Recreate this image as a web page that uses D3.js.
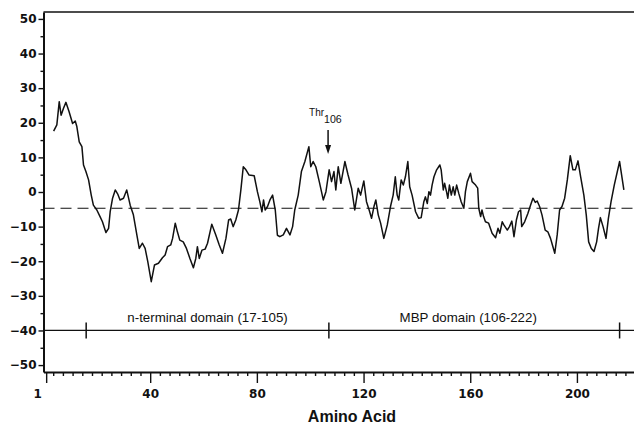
<!DOCTYPE html>
<html>
<head>
<meta charset="utf-8">
<script src="https://cdn.jsdelivr.net/npm/d3@7"></script>
<style>
  body { margin: 0; background: #fff; }
  svg { display: block; }
</style>
</head>
<body>
<div id="chart"></div>
<script>
// hydropathy profile
const aminoAcid = [
  3.8, 5, 5.9, 6.6, 7.5, 8.4, 9.6, 10.9, 11.9, 12.5, 13.4, 14.4, 15, 15.9, 16.9, 17.9, 18.7, 20, 21.2, 22.1,
  23.4, 24.4, 25, 25.9, 26.9, 27.9, 28.7, 30, 31.2, 32.5, 33.7, 35, 35.9, 37.1, 38.1, 39.1, 40.4, 41.6, 43.1, 44.6,
  45.6, 46.5, 47.7, 48.4, 49.4, 50.2, 51.1, 52.4, 53.6, 54.9, 56.2, 57.1, 57.7, 58.4, 59.4, 60.6, 61.5, 63.1, 64.6, 65.9,
  67.1, 68.4, 69.4, 70.2, 71.1, 72.1, 73.1, 74, 74.9, 75.9, 77.1, 79, 80.2, 81.1, 81.9, 82.5, 83.1, 84, 84.9, 85.9,
  86.9, 87.7, 88.6, 89.9, 91.1, 92.4, 93.4, 94.2, 95.5, 96.7, 98, 99.5, 100.2, 101.1, 102.1, 103.4, 104.9, 105.9, 107.1, 108,
  108.9, 109.6, 110.5, 111.5, 113, 114.2, 115.5, 116.7, 118, 118.9, 120.1, 121.1, 122.1, 123, 123.9, 124.6, 125.5, 126.4, 127.6, 128.9,
  130.1, 131.1, 131.9, 132.6, 133.2, 134.1, 134.9, 135.7, 136.6, 137.3, 138.2, 139.5, 140.7, 141.6, 142.6, 143.2, 143.9, 144.5, 145.1, 145.7,
  146.4, 147.4, 148.6, 149.1, 149.9, 150.4, 151.1, 151.6, 152.2, 152.9, 153.6, 154.2, 154.9, 155.7, 156.6, 157.6, 158.2, 158.9, 160.1, 160.7,
  162, 162.8, 163.2, 163.9, 164.4, 165, 165.7, 166.9, 168.2, 169.5, 170.4, 171.1, 172, 172.6, 173.9, 174.7, 175.6, 176.4, 177.3, 178.1,
  178.9, 179.3, 180.4, 181.6, 182.6, 183.5, 184.4, 185.1, 186, 186.9, 188.1, 189.1, 190.1, 191, 191.7, 192.6, 193.5, 194.4, 195.4, 196.4,
  197.5, 198.5, 199.4, 200.4, 201.4, 202.6, 203.5, 204.4, 205.4, 206.4, 207.4, 208.1, 208.8, 209.8, 210.9, 211.8, 212.8, 214, 216, 217.6
];
const hydropathy = [
  17.6, 19.4, 26.1, 22.2, 24.2, 25.9, 23.2, 19.8, 20.5, 18.9, 14.5, 13.1, 7.8, 5.9, 3.5, -0.9, -3.8, -5.2, -7.1, -8.6,
  -11.7, -10.5, -5.7, -1.8, 0.6, -0.7, -2.3, -1.8, 0.6, -3.8, -6.6, -12.4, -16.3, -14.8, -16.3, -20.1, -25.9, -21.1, -20.6, -19,
  -18.2, -15.8, -15.3, -13.4, -9, -11.5, -13.9, -14.4, -16.3, -19.2, -21.9, -19.2, -15.8, -19.2, -16.8, -16.5, -14.8, -9.3, -12.4, -15.3,
  -17.7, -13.4, -8.1, -7.8, -10, -8.1, -5.2, 0.6, 7.3, 6.4, 4.9, 4.7, 0.1, -2.8, -5.7, -2.3, -5.2, -4.2, -2.3, -0.9,
  -5.2, -12.5, -12.9, -12.4, -10.5, -12.4, -10, -5.2, -0.9, 5.9, 8.8, 13.1, 7.3, 8.8, 7.3, 3, -2.3, 0.1, 6.4, 3,
  5.9, 0.6, 7.3, 2.5, 8.8, 4.9, 1.1, -5.2, 1.1, -0.9, 3.2, -2.8, -5.2, -7.6, -4.2, -2.3, -6.6, -9, -13.4, -9.5,
  -4.2, -0.9, 4.4, -0.9, -2.3, 3.5, 2, 4.4, 8.8, 1.5, -0.9, -5.7, -7.6, -7.4, -2.8, -1.4, -3.3, 0.1, -0.9, 2,
  4.4, 6.4, 7.8, 6.4, 0.6, 2.5, 0.1, -1.8, 2, -0.9, 1.5, -0.9, 2, -0.4, -2.8, -4.7, 0.1, 3, 5.4, 3,
  2, 1.1, -4.7, -7.1, -5.2, -7.1, -8.6, -9, -11.9, -13.2, -10.5, -11.9, -8.6, -9.5, -11, -10, -8.4, -12.9, -8.1, -5.7,
  -5.2, -10, -8.6, -6.2, -3.8, -1.8, -3, -2.6, -4.2, -6.6, -11, -11.5, -13.4, -15.8, -17.7, -12.4, -5.2, -4.2, -1.8, 3.5,
  10.5, 6.4, 6.4, 9, 4.4, -0.9, -6.6, -14.4, -16.3, -17.2, -14.4, -10.5, -7.4, -10, -13.4, -7.6, -2.8, 2, 8.8, 0.6
];
const baseline = -4.7;

const xTicks = [1, 40, 80, 120, 160, 200];
const yTicks = [-50, -40, -30, -20, -10, 0, 10, 20, 30, 40, 50];
const yMinor = [-45, -35, -25, -15, -5, 5, 15, 25, 35, 45];

// domain bar at y = -40
const domainLevel = -40;
const domainMarks = [16, 107, 216];
const domainLabels = ["n-terminal domain (17-105)", "MBP domain (106-222)"];

const annotationAt = 106.7;

const W = 634, H = 425;
const x = d3.scaleLinear().domain([0, 222]).range([43.5, 635.6]);
const y = d3.scaleLinear().domain([-52, 52]).range([372, 12]);

const svg = d3.select("#chart").append("svg")
    .attr("width", W)
    .attr("height", H)
    .style("font-family", "'Liberation Sans', Arial, sans-serif");

// top frame
svg.append("line")
    .attr("x1", x(0)).attr("x2", W)
    .attr("y1", y(52)).attr("y2", y(52))
    .attr("stroke", "#111").attr("stroke-width", 1.6);

// dashed reference line
svg.append("line")
    .attr("x1", x(0)).attr("x2", W)
    .attr("y1", y(baseline)).attr("y2", y(baseline))
    .attr("stroke", "#111").attr("stroke-width", 1.2)
    .attr("stroke-dasharray", "11,6");

// domain bar
svg.append("line")
    .attr("x1", x(0)).attr("x2", W)
    .attr("y1", y(domainLevel)).attr("y2", y(domainLevel))
    .attr("stroke", "#111").attr("stroke-width", 1.3);

svg.append("g").selectAll("line")
    .data(domainMarks)
    .enter().append("line")
    .attr("x1", d => x(d)).attr("x2", d => x(d))
    .attr("y1", y(domainLevel) - 8).attr("y2", y(domainLevel) + 8)
    .attr("stroke", "#111").attr("stroke-width", 1.5);

svg.append("g").selectAll("text")
    .data(domainLabels)
    .enter().append("text")
    .attr("x", (d, i) => x((domainMarks[i] + domainMarks[i + 1]) / 2) - (i ? 6 : 0))
    .attr("y", y(domainLevel) - 8)
    .attr("text-anchor", "middle")
    .style("font-size", "13.3px")
    .attr("fill", "#111")
    .text(d => d);

// axes
svg.append("g")
    .attr("transform", "translate(" + x(0) + ",0)")
    .call(d3.axisLeft(y).tickValues(yTicks).tickSize(5).tickSizeOuter(0).tickPadding(2));

svg.append("g")
    .attr("transform", "translate(" + x(0) + ",0)")
    .call(d3.axisLeft(y).tickValues(yMinor).tickSize(3).tickFormat(""))
    .select(".domain").remove();

const xMinor = d3.range(0, 223, 40 / 11).filter(v => v % 40 > 0.01 && v % 40 < 39.99 && v > 2);

const xAxis = svg.append("g")
    .attr("transform", "translate(0," + y(-52) + ")")
    .call(d3.axisBottom(x).tickValues(xTicks).tickSize(11).tickSizeOuter(0).tickPadding(6.5));

svg.append("g")
    .attr("transform", "translate(0," + y(-52) + ")")
    .call(d3.axisBottom(x).tickValues(xMinor).tickSize(4).tickFormat(""))
    .select(".domain").remove();

svg.selectAll(".domain").attr("stroke", "#111").attr("stroke-width", 2);
svg.selectAll(".tick line").attr("stroke", "#111").attr("stroke-width", 1.4);
svg.selectAll(".tick text")
    .attr("fill", "#111")
    .style("font-family", "'DejaVu Sans', sans-serif")
    .style("font-weight", "bold")
    .style("font-size", "12px");

// "1" label sits a little left of its tick
xAxis.selectAll(".tick text").filter(d => d === 1).attr("dx", -9);

// axis title
svg.append("text")
    .attr("x", 352)
    .attr("y", 422)
    .attr("text-anchor", "middle")
    .style("font-size", "16px")
    .style("font-weight", "bold")
    .attr("fill", "#111")
    .text("Amino Acid");

// profile
const line = d3.line()
    .x((d, i) => x(aminoAcid[i]))
    .y(d => y(d));

svg.append("path")
    .datum(hydropathy)
    .attr("d", line)
    .attr("fill", "none")
    .attr("stroke", "#111")
    .attr("stroke-width", 1.5)
    .attr("stroke-linejoin", "round");

// Thr106 arrow
const ax = x(annotationAt);
svg.append("line")
    .attr("x1", ax).attr("x2", ax)
    .attr("y1", 130).attr("y2", 147)
    .attr("stroke", "#111").attr("stroke-width", 1.5);
svg.append("path")
    .attr("d", `M${ax - 3},145 L${ax + 3},145 L${ax},154 Z`)
    .attr("fill", "#111");

const lab = svg.append("text")
    .attr("x", ax - 19)
    .attr("y", 116)
    .attr("fill", "#111")
    .style("font-size", "10px");
lab.append("tspan").text("Thr");
lab.append("tspan").attr("dy", 6.5).style("font-size", "10.6px").text("106");
</script>
</body>
</html>
